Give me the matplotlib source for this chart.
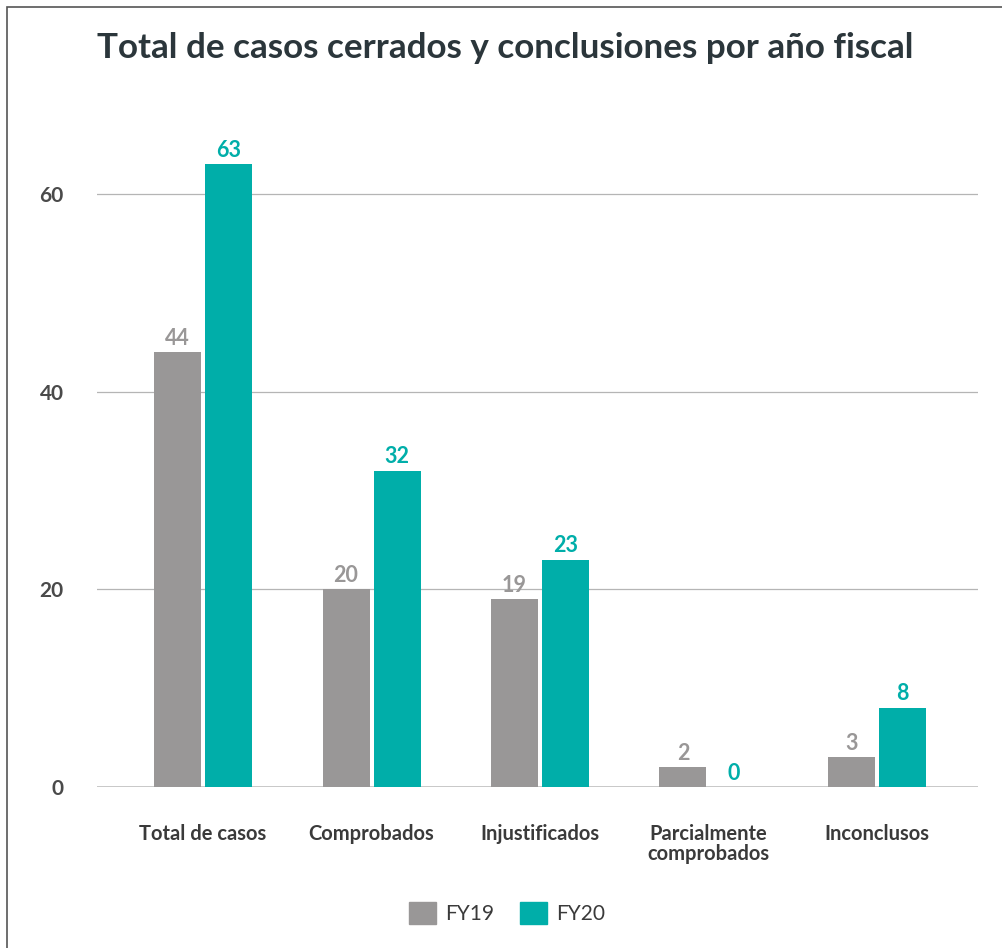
import matplotlib
matplotlib.use("Agg")
import matplotlib.pyplot as plt
import numpy as np
from matplotlib.patches import Rectangle, Patch

categories = ["Total de casos", "Comprobados", "Injustificados", "Parcialmente\ncomprobados", "Inconclusos"]
fy19 = [44, 20, 19, 2, 3]
fy20 = [63, 32, 23, 0, 8]
series_names = ["FY19", "FY20"]
yticks = [0, 20, 40, 60]

GRAY = "#999797"
TEAL = "#00aea9"
FONT = ["Lato", "DejaVu Sans"]
plt.rcParams["font.family"] = FONT

W, H = 1002, 948
fig = plt.figure(figsize=(W / 100, H / 100), dpi=100)
ax = fig.add_axes([97 / W, (H - 787) / H, (978 - 97) / W, (787 - 95) / H])

x = np.arange(len(categories))
bw = 0.279
off = 0.1515
b1 = ax.bar(x - off, fy19, bw, color=GRAY, zorder=3)
b2 = ax.bar(x + off, fy20, bw, color=TEAL, zorder=3)

for rects, vals, col in ((b1, fy19, GRAY), (b2, fy20, TEAL)):
    for r, v in zip(rects, vals):
        ax.annotate(str(v), (r.get_x() + r.get_width() / 2, v), xytext=(0, 2.5),
                    textcoords="offset points", ha="center", va="bottom",
                    color=col, fontsize=15.5, fontweight="bold")

ax.set_xlim(-0.63, 4.6)
ax.set_ylim(0, 70)
ax.set_yticks(yticks)
ax.set_yticklabels([str(t) for t in yticks])
ax.set_xticks(x)
ax.set_xticklabels(categories)
for s in ax.spines.values():
    s.set_visible(False)
ax.tick_params(axis="both", length=0)
ax.tick_params(axis="y", pad=24, labelsize=15, labelcolor="#4a4a4a")
ax.tick_params(axis="x", pad=27, labelsize=14.5, labelcolor="#3a3a3a")
for lbl in ax.get_yticklabels():
    lbl.set_fontweight("bold")
for lbl in ax.get_xticklabels():
    lbl.set_fontweight("bold")
    lbl.set_linespacing(0.95)
ax.grid(axis="y", color="#b5b5b5", linewidth=0.9, zorder=0)
ax.axhline(0, color="#c4c4c4", linewidth=2, zorder=2)
ax.set_axisbelow(True)

fig.text(97 / W, 1 - 48 / H, "Total de casos cerrados y conclusiones por año fiscal",
         fontsize=25.2, fontweight="bold", color="#2b363b", ha="left", va="center")

handles = [Patch(color=GRAY), Patch(color=TEAL)]
fig.legend(handles, series_names, loc="center", bbox_to_anchor=(507 / W, 1 - 913 / H),
           ncol=2, frameon=False, fontsize=15, handlelength=1.3, handleheight=1.3,
           columnspacing=1.2, handletextpad=0.45, labelcolor="#3a3a3a")

fig.patches.append(Rectangle((7 / W, -0.1), 1.2, 1 - 7 / H + 0.1, transform=fig.transFigure,
                             fill=False, edgecolor="#555555", linewidth=1.2))

fig.savefig("out.png", dpi=100)
